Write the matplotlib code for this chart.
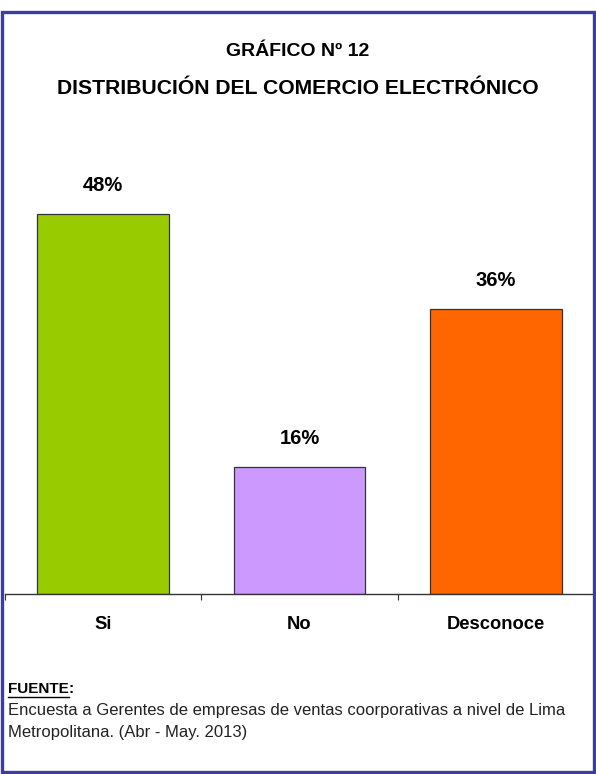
import matplotlib.pyplot as plt
from matplotlib.patches import Rectangle

plt.rcParams['font.family'] = ['Liberation Sans', 'DejaVu Sans']

categorias = ['Si', 'No', 'Desconoce']
porcentajes = [48, 16, 36]
colores = ['#99cc00', '#cc99ff', '#ff6600']

W, H = 596, 774
fig = plt.figure(figsize=(W / 100, H / 100), dpi=100)

# marco azul
fig.patches.append(Rectangle((1.5 / W, 2 / H), 592.5 / W, 760.5 / H,
                             transform=fig.transFigure, fill=False,
                             edgecolor='#3d3d9e', linewidth=2.4))

fig.text(0.5, 1 - 52 / H, 'GRÁFICO Nº 12', ha='center', va='center',
         fontsize=14, fontweight='bold')
fig.text(0.5, 1 - 89 / H, 'DISTRIBUCIÓN DEL COMERCIO ELECTRÓNICO',
         ha='center', va='center', fontsize=15.2, fontweight='bold')

# ejes: eje x en y=594 px
ax = fig.add_axes([5 / W, (H - 594) / H, 589 / W, 444 / H])
x = range(len(categorias))
barras = ax.bar(x, porcentajes, width=0.67, color=colores,
                edgecolor='#333333', linewidth=0.9)
ax.bar_label(barras, labels=[f'{p}%' for p in porcentajes], padding=14,
             fontsize=14.5, fontweight='bold')

ax.set_xlim(-0.5, 2.5)
ax.set_ylim(0, 444 / (380 / 48))
for s in ['left', 'right', 'top']:
    ax.spines[s].set_visible(False)
ax.spines['bottom'].set_color('#333333')
ax.spines['bottom'].set_linewidth(1)
ax.set_yticks([])
ax.set_xticks(list(x))
ax.set_xticklabels(categorias, fontsize=13.2, fontweight='bold')
ax.tick_params(axis='x', which='major', length=0, pad=15.5)
ax.set_xticks([-0.5, 0.5, 1.5, 2.5], minor=True)
ax.tick_params(axis='x', which='minor', length=4, width=0.8, color='#333333')

# fuente
fuente = fig.text(8 / W, 1 - 689 / H, 'FUENTE', ha='left', va='center',
                  fontsize=11, fontweight='bold')
fig.canvas.draw()
bb = fuente.get_window_extent().transformed(fig.transFigure.inverted())
fig.text(bb.x1, 1 - 689 / H, ':', ha='left', va='center',
         fontsize=11, fontweight='bold')
fig.lines.append(plt.Line2D([bb.x0, bb.x1], [1 - 697 / H, 1 - 697 / H],
                            transform=fig.transFigure, color='black',
                            linewidth=1))
fig.text(8 / W, 1 - 711 / H,
         'Encuesta a Gerentes de empresas de ventas coorporativas a nivel de Lima',
         ha='left', va='center', fontsize=12, color='#222222')
fig.text(8 / W, 1 - 733 / H, 'Metropolitana. (Abr - May. 2013)',
         ha='left', va='center', fontsize=12, color='#222222')

fig.savefig('out.png', dpi=100)
